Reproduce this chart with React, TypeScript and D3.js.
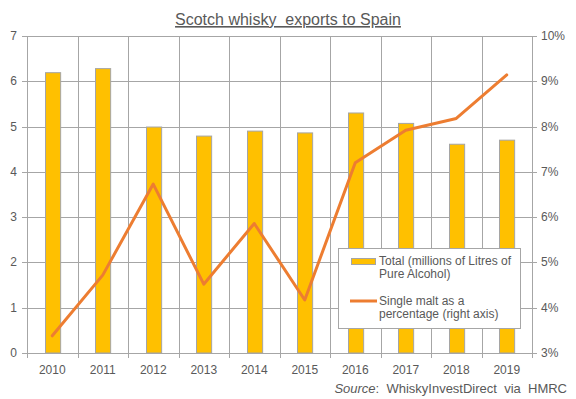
import * as d3 from 'd3'
import { useRef, useEffect } from "react"

const years = ['2010', '2011', '2012', '2013', '2014', '2015', '2016', '2017', '2018', '2019']
const totalLitres = [6.19, 6.28, 4.99, 4.79, 4.90, 4.86, 5.30, 5.07, 4.61, 4.70]
const singleMaltPct = [3.38, 4.72, 6.73, 4.52, 5.86, 4.17, 7.2, 7.92, 8.18, 9.14]
const leftTicks = [0, 1, 2, 3, 4, 5, 6, 7]
const rightTicks = [3, 4, 5, 6, 7, 8, 9, 10]

const grey = '#a6a6a6'
const textCol = '#595959'
const font = '"Liberation Sans", Arial, sans-serif'

export default function App() {
    const svgRef = useRef(null)

    useEffect(() => {
        const svg = d3.select(svgRef.current)
        svg.selectAll('*').remove()

        const plot = { left: 27, right: 532, top: 36, bottom: 353 }

        const x = d3.scaleBand().domain(years).range([plot.left, plot.right])
        const yL = d3.scaleLinear().domain([0, 7]).range([plot.bottom, plot.top])
        const yR = d3.scaleLinear().domain([3, 10]).range([plot.bottom, plot.top])

        const g = svg.append('g').attr('font-family', font).attr('fill', textCol)

        // horizontal grid
        g.selectAll('.hgrid').data(leftTicks).join('line')
            .attr('x1', plot.left).attr('x2', plot.right)
            .attr('y1', d => Math.round(yL(d)) + 0.5).attr('y2', d => Math.round(yL(d)) + 0.5)
            .attr('stroke', grey).attr('stroke-width', 1)

        // vertical grid at category boundaries
        const bounds = years.map(y => x(y)!).concat([plot.right])
        g.selectAll('.vgrid').data(bounds).join('line')
            .attr('x1', d => Math.round(d) + 0.5).attr('x2', d => Math.round(d) + 0.5)
            .attr('y1', plot.top).attr('y2', plot.bottom + 5)
            .attr('stroke', grey).attr('stroke-width', 1)

        // right axis ticks
        g.selectAll('.rtick').data(rightTicks).join('line')
            .attr('x1', plot.right).attr('x2', plot.right + 5)
            .attr('y1', d => Math.round(yR(d)) + 0.5).attr('y2', d => Math.round(yR(d)) + 0.5)
            .attr('stroke', grey)

        // left axis ticks
        g.selectAll('.ltick').data(leftTicks).join('line')
            .attr('x1', plot.left - 5).attr('x2', plot.left)
            .attr('y1', d => Math.round(yL(d)) + 0.5).attr('y2', d => Math.round(yL(d)) + 0.5)
            .attr('stroke', grey)

        // bars
        const bw = x.bandwidth() * 0.3
        g.selectAll('.bar').data(totalLitres).join('rect')
            .attr('x', (_, i) => Math.round(x(years[i])! + x.bandwidth() / 2 - bw / 2) + 0.5)
            .attr('y', d => yL(d))
            .attr('width', bw)
            .attr('height', d => plot.bottom - yL(d))
            .attr('fill', '#ffc000')
            .attr('stroke', '#a5a5a5').attr('stroke-width', 1)

        // line
        const line = d3.line<number>()
            .x((_, i) => x(years[i])! + x.bandwidth() / 2)
            .y(d => yR(d))
        g.append('path').datum(singleMaltPct)
            .attr('d', line)
            .attr('fill', 'none')
            .attr('stroke', '#ed7d31')
            .attr('stroke-width', 3)
            .attr('stroke-linecap', 'round')
            .attr('stroke-linejoin', 'round')

        // left labels
        g.selectAll('.llab').data(leftTicks).join('text')
            .attr('x', 17).attr('y', d => yL(d) + 4)
            .attr('text-anchor', 'end').attr('font-size', 12)
            .text(d => d)

        // right labels
        g.selectAll('.rlab').data(rightTicks).join('text')
            .attr('x', 541).attr('y', d => yR(d) + 4)
            .attr('font-size', 12)
            .text(d => d + '%')

        // x labels
        g.selectAll('.xlab').data(years).join('text')
            .attr('x', d => x(d)! + x.bandwidth() / 2).attr('y', 374)
            .attr('text-anchor', 'middle').attr('font-size', 12)
            .text(d => d)

        // title
        g.append('text')
            .attr('x', 288).attr('y', 25)
            .attr('text-anchor', 'middle').attr('font-size', 16)
            .attr('text-decoration', 'underline')
            .text('Scotch whisky\u00a0 exports to Spain')

        // source
        const src = g.append('text')
            .attr('x', 567).attr('y', 393)
            .attr('text-anchor', 'end').attr('font-size', 13)
        src.append('tspan').attr('font-style', 'italic').text('Source')
        src.append('tspan').text(':\u00a0 WhiskyInvestDirect\u00a0 via\u00a0 HMRC')

        // legend
        const lg = g.append('g')
        lg.append('rect')
            .attr('x', 338.5).attr('y', 248.5).attr('width', 182).attr('height', 80)
            .attr('fill', 'white').attr('stroke', grey)
        lg.append('rect')
            .attr('x', 351.5).attr('y', 258.5).attr('width', 24).attr('height', 6)
            .attr('fill', '#ffc000').attr('stroke', '#a5a5a5')
        lg.append('line')
            .attr('x1', 350).attr('x2', 377).attr('y1', 301).attr('y2', 301)
            .attr('stroke', '#ed7d31').attr('stroke-width', 3)
        const legText = [
            ['Total (millions of Litres of', 265],
            ['Pure Alcohol)', 278],
            ['Single malt as a', 305],
            ['percentage (right axis)', 318],
        ] as const
        legText.forEach(([t, y]) => {
            lg.append('text').attr('x', 379).attr('y', y).attr('font-size', 12).text(t)
        })
    }, [])

    return (
        <svg ref={svgRef} width={576} height={399}
            style={{ display: 'block', position: 'absolute', left: 0, top: 0, background: 'white' }}></svg>
    )
}
